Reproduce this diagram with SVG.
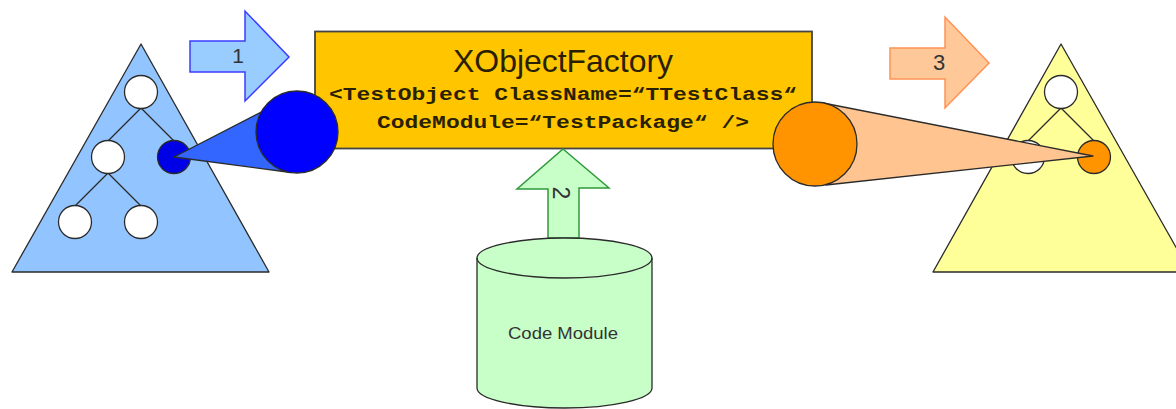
<svg xmlns="http://www.w3.org/2000/svg" width="1176" height="409" viewBox="0 0 1176 409">
<style>
.s{stroke:#2b2b2b;stroke-width:1.3;stroke-linejoin:round}
.w{fill:#fff}
.t{font-family:"Liberation Sans",Arial,sans-serif;fill:#333}
.m{font-family:"Liberation Mono","Courier New",monospace;font-weight:bold;font-size:19px;fill:#2a1f00;text-anchor:middle}
.l{fill:none}
</style>
<rect width="1176" height="409" fill="#fff"/>
<g id="left-tree">
<polygon class="s" points="141,44 12,272 269,272" fill="#92c5ff"/>
<path class="s l" d="M141,108 L108,141 M141,108 L174,141 M108,173 L75,206 M108,173 L141,206"/>
<circle class="s w" cx="141" cy="92" r="16.5"/>
<circle class="s w" cx="108" cy="157" r="16.5"/>
<circle class="s w" cx="75" cy="222" r="16.5"/>
<circle class="s w" cx="141" cy="222" r="16.5"/>
<circle class="s" cx="174" cy="157" r="16.5" fill="#0000e6"/>
</g>
<g id="right-tree">
<polygon class="s" points="1061,44 933,272 1190,272" fill="#ffff99"/>
<path class="s l" d="M1061,108 L1028,141 M1061,108 L1094,141"/>
<circle class="s w" cx="1061" cy="92" r="16.5"/>
<circle class="s w" cx="1028" cy="157" r="16.5"/>
<circle class="s" cx="1094" cy="157" r="16.5" fill="#ff9400"/>
</g>
<g id="factory">
<rect x="315" y="31.500" width="497" height="117" fill="#ffc600" stroke="#444" stroke-width="1.800"/>
<text class="t" x="563" y="72" font-size="32" text-anchor="middle" textLength="220" lengthAdjust="spacingAndGlyphs" style="fill:#2a1f00">XObjectFactory</text>
<text class="m" x="563" y="100" textLength="468" lengthAdjust="spacingAndGlyphs">&lt;TestObject ClassName=“TTestClass“</text>
<text class="m" x="563" y="128" textLength="372" lengthAdjust="spacingAndGlyphs">CodeModule=“TestPackage“ /&gt;</text>
</g>
<g id="connectors">
<polygon points="190,41 245,41 245,11 289,57 245,101 245,72 190,72" fill="#99ccff" stroke="#3c3cff" stroke-width="1.500"/>
<polygon points="890,48 945,48 945,17 989,63 945,108 945,79 890,79" fill="#ffc899" stroke="#ff9254" stroke-width="1.500"/>
<polygon points="563,149 609,188 579,188 579,238 548,238 548,189 517,189" fill="#c8ffc8" stroke="#2f9a3a" stroke-width="1.500"/>
<polygon class="s" points="174,157 275,105 291,172.500" fill="#3366ff"/>
<polygon class="s" points="1093,156 823,103 826,185" fill="#ffc48f"/>
</g>
<g id="code-module">
<path class="s" d="M477,258 A87.500,20 0 0 1 652,258 V388 A87.500,20 0 0 1 477,388 Z" fill="#c8ffc8"/>
<path class="s l" d="M477,258 A87.500,20 0 0 0 652,258"/>
<text class="t" x="563" y="339" font-size="16" text-anchor="middle" textLength="110" lengthAdjust="spacingAndGlyphs">Code Module</text>
</g>
<g id="zoom-blue"><circle class="s" cx="297" cy="132" r="41" fill="#0000ff"/></g>
<g id="zoom-orange"><circle class="s" cx="815" cy="144" r="42" fill="#ff9400"/></g>
<g id="labels">
<text class="t" x="238" y="63" font-size="21" text-anchor="middle">1</text>
<text class="t" x="939" y="70" font-size="22" text-anchor="middle">3</text>
<text class="t" transform="translate(553,193) rotate(90)" font-size="23" text-anchor="middle">2</text>
</g>
</svg>
